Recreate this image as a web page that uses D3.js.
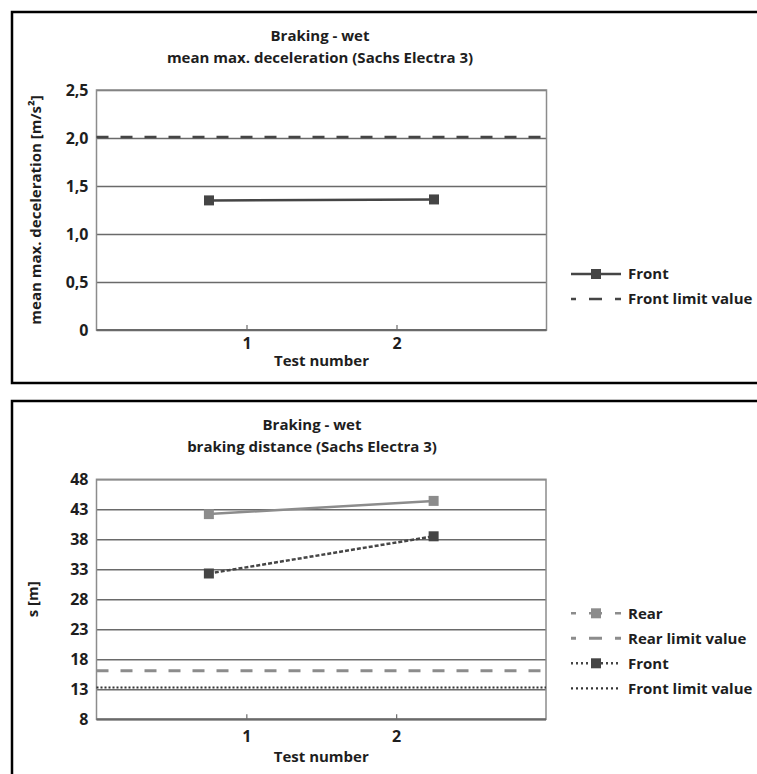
<!DOCTYPE html>
<html>
<head>
<meta charset="utf-8">
<script src="https://cdn.jsdelivr.net/npm/d3@7"></script>
<style>
  body { margin: 0; background: #fff; }
  svg { display: block; font-family: "Open Sans", sans-serif; }
</style>
</head>
<body>
<svg id="chart" width="757" height="774"></svg>
<script>

// Test axis
const testTicks = [1, 2];
const testPositions = [0.75, 2.25];   // marker positions on the test axis
const testExtent = [0, 3];

// Chart 1: mean max. deceleration
const decelTicks = [0, 0.5, 1.0, 1.5, 2.0, 2.5];
const decelFront = [1.35, 1.36];
const decelFrontLimit = 2.01;

// Chart 2: braking distance
const distTicks = [8, 13, 18, 23, 28, 33, 38, 43, 48];
const distRear = [42.2, 44.4];
const distFront = [32.3, 38.5];
const distRearLimit = 16.1;
const distFrontLimit = 13.3;

const dark = "#454545", light = "#8c8c8c", grid = "#6a6a6a", ink = "#1e1e1e";

const styles = {
    front:      {color: dark,  width: 2.5, dash: null,    marker: true},
    frontLimit: {color: dark,  width: 2.5, dash: "12,12", marker: false},
    rear:       {color: light, width: 2.5, dash: null,    marker: true},
    rearLimit:  {color: light, width: 3,   dash: "12,12", marker: false},
    frontDot:   {color: dark,  width: 2.5, dash: "4,2",   marker: true},
    frontLimDot:{color: "#333", width: 2.2, dash: "2,2",  marker: false}
};

const svg = d3.select("#chart");

function drawPanel(cfg) {
    const g = svg.append("g");
    const p = cfg.plot;

    // Frame (open on the right)
    g.append("path")
        .attr("d", `M760,${cfg.frame[0]}H12V${cfg.frame[1]}H760`)
        .attr("fill", "none")
        .attr("stroke", "#000")
        .attr("stroke-width", 2.5);

    // Titles
    g.selectAll(".title")
        .data(cfg.titles)
        .join("text")
        .attr("x", cfg.titleX)
        .attr("y", (d, i) => cfg.titleY[i])
        .attr("dy", "0.35em")
        .attr("text-anchor", "middle")
        .attr("font-size", 15)
        .attr("font-weight", 700)
        .attr("fill", ink)
        .text(d => d);

    const x = d3.scaleLinear().domain(testExtent).range([p.left, p.right]);
    const y = d3.scaleLinear().domain([cfg.yTicks[0], cfg.yTicks[cfg.yTicks.length - 1]])
        .range([p.bottom, p.top]);

    // y axis with gridlines
    const yAxis = g.append("g")
        .attr("transform", `translate(${p.left},0)`)
        .call(d3.axisLeft(y).tickValues(cfg.yTicks).tickFormat(cfg.yFormat)
            .tickSize(-(p.right - p.left)).tickPadding(8));
    yAxis.select(".domain").remove();
    yAxis.selectAll("line").attr("stroke", grid).attr("stroke-width", 1.5);
    yAxis.selectAll("text")
        .attr("font-size", 16).attr("font-weight", 700).attr("fill", ink)
        .attr("font-family", "Open Sans");

    // x axis (ticks point inward)
    const xAxis = g.append("g")
        .attr("transform", `translate(0,${p.bottom})`)
        .call(d3.axisBottom(x).tickValues(testTicks).tickFormat(d3.format("d"))
            .tickSizeInner(-5).tickSizeOuter(0).tickPadding(cfg.xPad));
    xAxis.select(".domain").remove();
    xAxis.selectAll("line").attr("stroke", grid).attr("stroke-width", 1.2);
    xAxis.selectAll("text")
        .attr("font-size", 16).attr("font-weight", 700).attr("fill", ink)
        .attr("font-family", "Open Sans");

    // plot border
    g.append("rect")
        .attr("x", p.left).attr("y", p.top)
        .attr("width", p.right - p.left).attr("height", p.bottom - p.top)
        .attr("fill", "none").attr("stroke", light).attr("stroke-width", 1.5);
    g.append("line")
        .attr("x1", p.left).attr("x2", p.right)
        .attr("y1", p.bottom).attr("y2", p.bottom)
        .attr("stroke", grid).attr("stroke-width", 2);

    // Axis titles
    g.append("text")
        .attr("transform", `translate(${cfg.yLabelX},${(p.top + p.bottom) / 2}) rotate(-90)`)
        .attr("dy", "0.35em")
        .attr("text-anchor", "middle")
        .attr("font-size", 15).attr("font-weight", 700).attr("fill", ink)
        .text(cfg.yLabel);
    g.append("text")
        .attr("x", (p.left + p.right) / 2)
        .attr("y", cfg.xLabelY)
        .attr("dy", "0.35em")
        .attr("text-anchor", "middle")
        .attr("font-size", 15).attr("font-weight", 700).attr("fill", ink)
        .text("Test number");

    // Limit lines
    for (let lim of cfg.limits) {
        const s = styles[lim.style];
        g.append("line")
            .attr("x1", x(testExtent[0])).attr("x2", x(testExtent[1]))
            .attr("y1", y(lim.value)).attr("y2", y(lim.value))
            .attr("stroke", s.color).attr("stroke-width", s.width)
            .attr("stroke-dasharray", s.dash);
    }

    // Series
    for (let ser of cfg.series) {
        const s = styles[ser.style];
        g.append("path")
            .datum(ser.values)
            .attr("fill", "none")
            .attr("stroke", s.color)
            .attr("stroke-width", s.width)
            .attr("stroke-dasharray", s.dash)
            .attr("d", d3.line()
                .x((d, i) => x(testPositions[i]))
                .y(d => y(d)));
        g.selectAll(null)
            .data(ser.values)
            .join("rect")
            .attr("x", (d, i) => x(testPositions[i]) - 5)
            .attr("y", d => y(d) - 5)
            .attr("width", 10).attr("height", 10)
            .attr("fill", s.color);
    }

    // Legend
    const lg = g.append("g");
    const item = lg.selectAll("g")
        .data(cfg.legend)
        .join("g")
        .attr("transform", (d, i) => `translate(571,${cfg.legendY + i * cfg.legendStep})`);
    item.append("line")
        .attr("x1", 0).attr("x2", 50)
        .attr("stroke", d => styles[d.style].color)
        .attr("stroke-width", d => styles[d.style].width)
        .attr("stroke-dasharray", d => d.dash || styles[d.style].dash)
        .attr("stroke-dashoffset", d => d.offset || 0);
    item.filter(d => styles[d.style].marker)
        .append("rect")
        .attr("x", 20).attr("y", -5)
        .attr("width", 10).attr("height", 10)
        .attr("fill", d => styles[d.style].color);
    item.append("text")
        .attr("x", 57)
        .attr("dy", "0.35em")
        .attr("font-size", 15).attr("font-weight", 700).attr("fill", ink)
        .text(d => d.label);
}

drawPanel({
    frame: [12, 383],
    titles: ["Braking - wet", "mean max. deceleration (Sachs Electra 3)"],
    titleX: 320, titleY: [36, 57.5],
    plot: {left: 96.5, right: 546.5, top: 90, bottom: 330},
    yTicks: decelTicks,
    yFormat: d => d === 0 ? "0" : d3.format(".1f")(d).replace(".", ","),
    yLabel: "mean max. deceleration [m/s²]", yLabelX: 36,
    xPad: 8, xLabelY: 361,
    limits: [{value: decelFrontLimit, style: "frontLimit"}],
    series: [{values: decelFront, style: "front"}],
    legendY: 274, legendStep: 25,
    legend: [
        {label: "Front", style: "front"},
        {label: "Front limit value", style: "frontLimit", dash: "13,13", offset: 8}
    ]
});

drawPanel({
    frame: [401, 790],
    titles: ["Braking - wet", "braking distance (Sachs Electra 3)"],
    titleX: 312, titleY: [425, 447],
    plot: {left: 96.5, right: 546, top: 479.3, bottom: 719.3},
    yTicks: distTicks,
    yFormat: d3.format("d"),
    yLabel: "s [m]", yLabelX: 33,
    xPad: 11.5, xLabelY: 757,
    limits: [
        {value: distRearLimit, style: "rearLimit"},
        {value: distFrontLimit, style: "frontLimDot"}
    ],
    series: [
        {values: distRear, style: "rear"},
        {values: distFront, style: "frontDot"}
    ],
    legendY: 613.3, legendStep: 25,
    legend: [
        {label: "Rear", style: "rear", dash: "13,13", offset: 8},
        {label: "Rear limit value", style: "rearLimit", dash: "13,13", offset: 8},
        {label: "Front", style: "frontDot", dash: "2,3"},
        {label: "Front limit value", style: "frontLimDot", dash: "2,3"}
    ]
});

</script>
</body>
</html>
